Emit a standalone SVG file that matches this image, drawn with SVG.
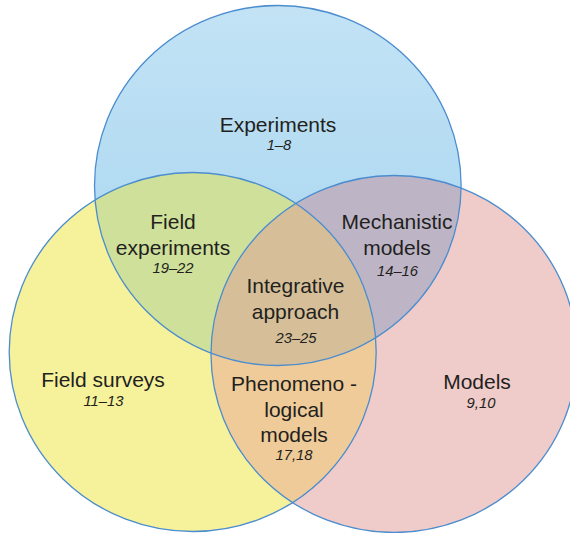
<svg xmlns="http://www.w3.org/2000/svg" width="570" height="533" viewBox="0 0 570 533">
<style>
.lbl{font-family:"Liberation Sans",Arial,sans-serif;font-size:21px;fill:#231f20;text-anchor:middle}
.ref{font-family:"Liberation Sans",Arial,sans-serif;font-size:14.8px;font-style:italic;fill:#231f20;text-anchor:middle}
.edge{fill:none;stroke:#4b8dcf;stroke-width:1.3}
</style>
<defs>
<linearGradient id="gBlue" x1="0" y1="0" x2="0" y2="1">
<stop offset="0" stop-color="#c3e3f5"/>
<stop offset="1" stop-color="#a3d3ef"/>
</linearGradient>
<ellipse id="eA" cx="277.8" cy="185.5" rx="183.3" ry="180"/>
<ellipse id="eB" cx="192.7" cy="352" rx="183.5" ry="179.5"/>
<ellipse id="eC" cx="394" cy="354" rx="183" ry="178.5"/>
<clipPath id="cA"><use href="#eA"/></clipPath>
<clipPath id="cB"><use href="#eB"/></clipPath>
<clipPath id="cC"><use href="#eC"/></clipPath>
</defs>
<rect width="570" height="533" fill="#ffffff"/>
<g id="fills">
<use href="#eA" fill="url(#gBlue)"/>
<use href="#eB" fill="#f6f19b"/>
<use href="#eC" fill="#efcbc9"/>
<g clip-path="url(#cA)">
<use href="#eB" fill="#cfe09a"/>
<use href="#eC" fill="#bdb5c6"/>
</g>
<g clip-path="url(#cB)">
<use href="#eC" fill="#eecb98"/>
</g>
<g clip-path="url(#cA)"><g clip-path="url(#cB)"><use href="#eC" fill="#d6bf98"/></g></g>
</g>
<g id="connectors">
<use href="#eA" class="edge"/>
<use href="#eB" class="edge"/>
<use href="#eC" class="edge"/>
</g>
<g id="experiments">
<text class="lbl" x="278" y="132">Experiments</text>
<text class="ref" x="279" y="149.5">1–8</text>
</g>
<g id="field-experiments">
<text class="lbl" x="173" y="228.5">Field</text>
<text class="lbl" x="173" y="255">experiments</text>
<text class="ref" x="173" y="273">19–22</text>
</g>
<g id="mechanistic-models">
<text class="lbl" x="397" y="228.5">Mechanistic</text>
<text class="lbl" x="397" y="255">models</text>
<text class="ref" x="397.5" y="276">14–16</text>
</g>
<g id="integrative-approach">
<text class="lbl" x="295.5" y="292.5">Integrative</text>
<text class="lbl" x="295.5" y="318.5">approach</text>
<text class="ref" x="296" y="343">23–25</text>
</g>
<g id="field-surveys">
<text class="lbl" x="103" y="387">Field surveys</text>
<text class="ref" x="103.5" y="405.5">11–13</text>
</g>
<g id="phenomenological-models">
<text class="lbl" x="294" y="391">Phenomeno -</text>
<text class="lbl" x="294" y="417">logical</text>
<text class="lbl" x="294" y="442">models</text>
<text class="ref" x="294" y="460">17,18</text>
</g>
<g id="models">
<text class="lbl" x="477" y="388.5">Models</text>
<text class="ref" x="481" y="408">9,10</text>
</g>
</svg>
